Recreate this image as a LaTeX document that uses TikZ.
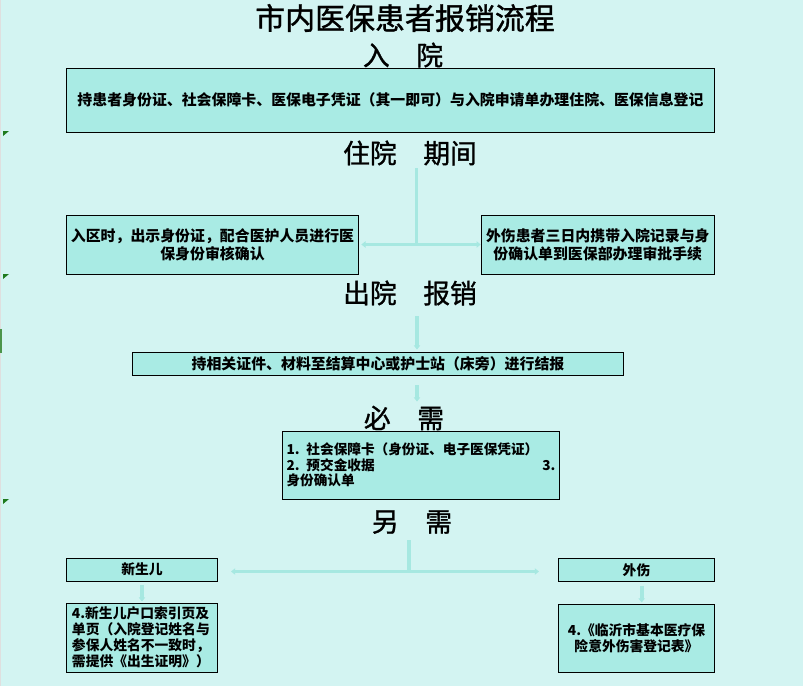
\documentclass[tikz,border=0pt]{standalone}
\usepackage{fontspec}
\setmainfont{Noto Sans CJK SC}
\newfontfamily\headfont{Noto Sans CJK SC}[FakeBold=1.2]
\usetikzlibrary{arrows.meta}
\definecolor{bgcyan}{HTML}{D3F4F2}
\definecolor{boxcyan}{HTML}{A9EBE4}
\definecolor{linecyan}{HTML}{A6E8E1}
\definecolor{markgreen}{HTML}{1E7A1E}
\begin{document}
\begin{tikzpicture}[x=0.025cm,y=-0.025cm,
  box/.style={draw=black,fill=boxcyan,line width=0.7pt,inner sep=2pt,font=\fontsize{10.6}{13}\selectfont\bfseries},
  smallbox/.style={box,font=\fontsize{9.8}{11.4}\selectfont\bfseries},
  heading/.style={inner sep=0pt,font=\headfont\fontsize{19}{22}\selectfont},
  link/.style={draw=linecyan,line width=2.8pt},
  arr/.style={link,-{Triangle[width=4.5pt,length=3pt]}},
  twoarr/.style={link,{Triangle[width=4.5pt,length=3pt]}-{Triangle[width=4.5pt,length=3pt]}}]
\fill[bgcyan] (0,0) rectangle (803,686);
\useasboundingbox (0,0) rectangle (803,686);
\fill[gray!25] (0,0) rectangle (1.5,686);
\fill[markgreen!80] (0,329) rectangle (2,353);
\foreach \y in {131,274,499}
  \fill[markgreen] (3,\y) -- (9,\y) -- (3,\y+5) -- cycle;

\node[inner sep=0pt,font=\headfont\fontsize{21.3}{24}\selectfont] (title) at (405,18) {市内医保患者报销流程};
\node[heading] (ruyuan) at (403,55) {入　院};
\node[box,minimum width=16.175cm,minimum height=1.6cm] (dengji) at (390.5,100) {持患者身份证、社会保障卡、医保电子凭证（其一即可）与入院申请单办理住院、医保信息登记};
\node[heading] (zhuyuan) at (410,153) {住院　期间};
\node[box,minimum width=7.275cm,minimum height=1.475cm,align=center] (shenhe) at (212.5,244.5) {入区时，出示身份证，配合医护人员进行医\\保身份审核确认};
\node[box,minimum width=5.825cm,minimum height=1.475cm,align=center] (shenpi) at (597.8,244.5) {外伤患者三日内携带入院记录与身\\份确认单到医保部办理审批手续};
\node[heading] (chuyuan) at (410,293) {出院　报销};
\node[box,minimum width=12.29cm,minimum height=0.575cm] (jiebao) at (378,363.5) {持相关证件、材料至结算中心或护士站（床旁）进行结报};
\node[heading] (bixu) at (404,418) {必　需};
\node[box,font=\fontsize{9.7}{11}\selectfont\bfseries,minimum width=6.9cm,minimum height=1.7cm,text width=6.72cm,align=left] (cailiao) at (421,465) {1. 社会保障卡（身份证、电子医保凭证）\\2. 预交金收据\hfill 3.\\身份确认单};
\node[heading] (lingxu) at (412,522) {另　需};
\node[smallbox,minimum width=3.75cm,minimum height=0.575cm] (xinsheng) at (142,569.5) {新生儿};
\node[smallbox,minimum width=3.875cm,minimum height=0.575cm] (waishang) at (636.5,570) {外伤};
\node[smallbox,minimum width=3.75cm,minimum height=1.725cm,text width=3.5cm,align=left] (hukou) at (142,637.5) {4.新生儿户口索引页及\\单页（入院登记姓名与\\参保人姓名不一致时，\\需提供《出生证明》）};
\node[smallbox,minimum width=3.875cm,minimum height=1.7cm,align=center] (dengjibiao) at (636.5,638) {4.《临沂市基本医疗保\\险意外伤害登记表》};

\coordinate (zhuyuan-t) at (416.5,168);
\coordinate (chuyuan-t) at (417,316);
\coordinate (lingxu-t) at (409,540);
\coordinate (xinsheng-r) at (231,571.5);
\coordinate (waishang-l) at (539,571.5);
\draw[link] (zhuyuan-t) -- (zhuyuan-t |- shenhe.east);
\draw[twoarr,shorten <=2pt] (shenhe.east) -- (shenpi.west);
\draw[arr,shorten >=1.4pt] (chuyuan-t) -- (chuyuan-t |- jiebao.north);
\draw[arr,shorten <=7pt,shorten >=2.8pt] (chuyuan-t |- jiebao.south) -- (chuyuan-t |- bixu.north);
\draw[link] (lingxu-t) -- (lingxu-t |- xinsheng-r);
\draw[twoarr] (xinsheng-r) -- (waishang-l);
\draw[arr,shorten <=2.8pt,shorten >=0.7pt] (xinsheng) -- (hukou);
\draw[arr,shorten <=2.8pt,shorten >=0.7pt] ([xshift=0.13cm]waishang.south) -- ([xshift=0.13cm]dengjibiao.north);
\end{tikzpicture}
\end{document}
